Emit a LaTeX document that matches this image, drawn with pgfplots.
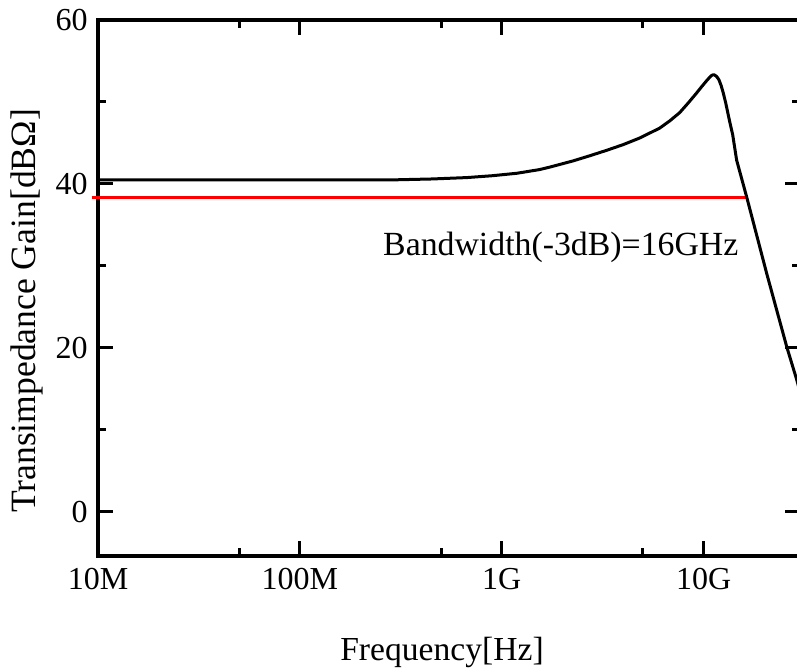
\documentclass[border=0pt]{standalone}
\usepackage{fontspec}
\setmainfont{Liberation Serif}
\usepackage{pgfplots}
\pgfplotsset{compat=1.18}
\begin{document}
\begin{tikzpicture}
\begin{axis}[
  scale only axis,
  width=351pt, height=268pt,
  xmode=log,
  xmin=1e7, xmax=3e10,
  ymin=-5.4, ymax=60,
  xtick={1e7,1e8,1e9,1e10},
  xticklabels={10M,100M,1G,10G},
  minor xtick={5e7,5e8,5e9},
  ytick={0,20,40,60},
  minor ytick={10,30,50},
  tick pos=both,
  tick align=inside,
  major tick length=7.5pt,
  minor tick length=4pt,
  every tick/.style={line width=1.5pt, black},
  axis line style={line width=1.6pt},
  /pgf/number format/assume math mode=true,
  tick label style={font=\fontsize{16}{19}\selectfont},
  yticklabel style={inner sep=0pt, xshift=-5pt},
  xticklabel style={inner sep=0pt, yshift=-6pt},
  xlabel={Frequency[Hz]},
  ylabel={Transimpedance Gain[dB\symbol{"03A9}]},
  xlabel style={font=\fontsize{16.8}{20}\selectfont, at={(axis description cs:0.49,-0.151)}, anchor=north, inner sep=0pt},
  ylabel style={font=\fontsize{17.8}{21}\selectfont, at={(axis description cs:-0.078,0.457)}, anchor=south, inner sep=0pt},
  clip=false,
]
\addplot[red, line width=1.4pt] coordinates {(9.3e6,38.3) (1.633e10,38.3)};
\addplot[black, line width=1.5pt, line join=round] coordinates {
(1e7,40.5) (1e8,40.5) (3e8,40.5) (4.5e8,40.6) (6.7e8,40.77) (9e8,41.0)
(1.19e9,41.3) (1.54e9,41.75) (1.73e9,42.05) (2.25e9,42.8) (2.7e9,43.4)
(3.31e9,44.1) (4e9,44.8) (4.82e9,45.6) (6.05e9,46.8) (6.8e9,47.7)
(7.61e9,48.7) (8.4e9,49.9) (9.23e9,51.1) (9.8e9,51.9) (1.035e10,52.6)
(1.07e10,53.0) (1.09e10,53.2) (1.109e10,53.3) (1.13e10,53.3) (1.16e10,53.1)
(1.19e10,52.7) (1.22e10,52.0) (1.25e10,51.1) (1.285e10,49.9) (1.345e10,47.6) (1.392e10,46.0)
(1.456e10,42.9) (1.633e10,38.4) (2.05e10,29.1) (2.58e10,20.1) (2.89e10,16.1) (3e10,14.6)
};
\node[anchor=base, inner sep=0pt, font=\fontsize{16.9}{20}\selectfont] at (axis cs:1.96e9,31.3) {Bandwidth(-3dB)=16GHz};
\end{axis}
\pgfresetboundingbox
\path[use as bounding box] ([xshift=-49pt,yshift=-58pt]current axis.south west) rectangle ([xshift=349.5pt,yshift=278pt]current axis.south west);
\end{tikzpicture}
\end{document}
